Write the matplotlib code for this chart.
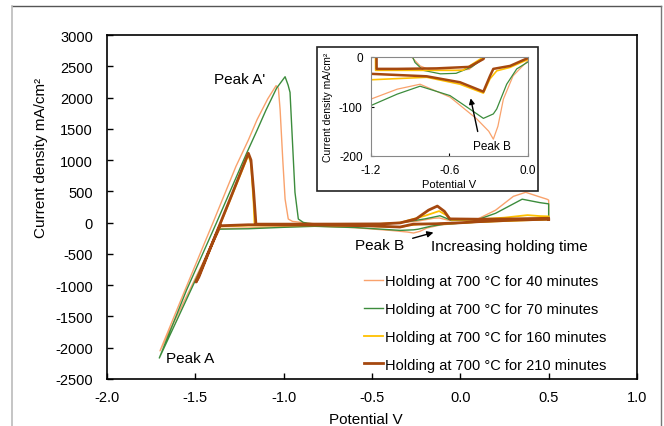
import matplotlib
matplotlib.use("Agg")
import matplotlib.pyplot as plt
from matplotlib.patches import Rectangle
from matplotlib.lines import Line2D
from matplotlib.ticker import FormatStrFormatter

plt.rcParams['font.family'] = ['Liberation Sans', 'DejaVu Sans']
plt.rcParams['axes.unicode_minus'] = False

# ---------------- data (potential V, current density mA/cm2) ----------------
labels = ["Holding at 700 °C for 40 minutes", "Holding at 700 °C for 70 minutes",
          "Holding at 700 °C for 160 minutes", "Holding at 700 °C for 210 minutes"]
colors = ['#F9A26C', '#3C8C3C', '#FFC000', '#A5480F']

v40 = [0.5, 0.3, 0.1, 0.0, -0.114, -0.188, -0.23, -0.265, -0.30, -0.392, -0.596, -0.825, -1.0, -1.2, -1.36, -1.45, -1.70,
       -1.55, -1.40, -1.27, -1.20, -1.15, -1.09, -1.043, -1.03, -1.02, -1.005, -0.992, -0.974, -0.95, -0.89, -0.825, -0.75,
       -0.55, -0.45, -0.34, -0.25, -0.15, -0.12, -0.07, 0.0, 0.1, 0.2, 0.3, 0.37, 0.44, 0.49, 0.5, 0.5]
i40 = [55, 40, 15, -7, -38, -85, -140, -166, -150, -125, -81, -55, -65, -85, -95, -600, -2050,
       -1020, 0, 900, 1320, 1650, 1980, 2190, 2150, 1800, 1000, 377, 58, 20, 0, -18, -26,
       -27, -25, 0, 20, 70, 75, 40, 35, 60, 200, 420, 485, 420, 375, 360, 55]

v70 = [0.5, 0.3, 0.1, 0.0, -0.086, -0.163, -0.239, -0.265, -0.341, -0.39, -0.596, -0.825, -1.0, -1.2, -1.37, -1.45, -1.704,
       -1.55, -1.38, -1.21, -1.15, -1.10, -1.04, -0.992, -0.975, -0.964, -0.936, -0.917, -0.89, -0.864, -0.80, -0.67,
       -0.55, -0.43, -0.36, -0.30, -0.20, -0.115, -0.08, -0.05, 0.1, 0.2, 0.35, 0.45, 0.5, 0.5]
i70 = [50, 35, 10, -10, -24, -55, -105, -115, -124, -115, -78, -59, -75, -98, -105, -620, -2165,
       -1080, 0, 1108, 1480, 1800, 2150, 2333, 2200, 2083, 484, 58, 5, -11, -27, -34,
       -33, -20, -7, 15, 60, 110, 70, 35, 50, 150, 375, 320, 300, 50]

v160 = [0.5, 0.1, 0.0, -0.137, -0.239, -0.29, -0.341, -0.52, -0.774, -1.2, -1.36, -1.49,
        -1.47, -1.20, -1.185, -1.17, -1.165, -0.5, -0.34, -0.2, -0.12, -0.08, -0.05, 0.1, 0.25, 0.38, 0.45, 0.5, 0.5]
i160 = [50, 10, -5, -21, -28, -44, -73, -55, -41, -46, -60, -900,
        -800, 1080, 950, 300, -27, -27, 0, 110, 185, 120, 45, 50, 80, 120, 105, 100, 50]

v210 = [0.5, 0.3, 0.1, 0.0, -0.137, -0.265, -0.29, -0.341, -0.52, -0.774, -1.2, -1.36, -1.43, -1.496,
        -1.48, -1.40, -1.30, -1.20, -1.185, -1.17, -1.16, -1.157, -1.0, -0.7, -0.45, -0.34, -0.25, -0.18,
        -0.13, -0.09, -0.06, 0.1, 0.3, 0.5, 0.5]
i210 = [55, 40, 15, -2, -18, -24, -38, -70, -51, -39, -34, -50, -500, -950,
        -870, -300, 400, 1110, 1000, 500, 100, -24, -24, -23, -20, -4, 60, 200,
        265, 180, 60, 55, 60, 70, 55]

series_v = [v40, v70, v160, v210]
series_i = [i40, i70, i160, i210]
widths = [1.0, 1.0, 1.3, 2.0]

xticks = [-2.0, -1.5, -1.0, -0.5, 0.0, 0.5, 1.0]
yticks = list(range(-2500, 3001, 500))
in_xticks = [-1.2, -0.6, 0.0]
in_yticks = [-200, -100, 0]

W, H = 664, 427
fig = plt.figure(figsize=(W / 100, H / 100), dpi=100)

def fx(px):
    return px / W

def fy(py):
    return 1 - py / H

# figure border
fig.add_artist(Line2D([fx(12), fx(661)], [fy(7), fy(7)], color='#555555', lw=1.0))
fig.add_artist(Line2D([fx(12), fx(12)], [fy(7), 0], color='#BBBBBB', lw=1.2))
fig.add_artist(Line2D([fx(661), fx(661)], [fy(7), 0], color='#777777', lw=1.0))

ax = fig.add_axes([fx(107), fy(380), (637 - 107) / W, (380 - 36) / H])
for v, i, c, lw, lab in zip(series_v, series_i, colors, widths, labels):
    ax.plot(v, i, color=c, lw=lw, label=lab, solid_joinstyle='round')
ax.set_xlim(-2.0, 1.0)
ax.set_ylim(-2500, 3000)
ax.set_xticks(xticks)
ax.set_yticks(yticks)
ax.xaxis.set_major_formatter(FormatStrFormatter('%.1f'))
ax.tick_params(direction='in', length=4, width=1, labelsize=10.5)
ax.tick_params(axis='x', pad=8)
ax.tick_params(axis='y', pad=10)
for s in ax.spines.values():
    s.set_linewidth(1.2)

fig.text(fx(41), fy(158), "Current density mA/cm²", rotation=90, ha='center', va='center', fontsize=11)
fig.text(fx(366), fy(420), "Potential V", ha='center', va='center', fontsize=11)

ax.text(-1.25, 2296, "Peak A'", ha='center', va='center', fontsize=11)
ax.text(-1.666, -2157, "Peak A", ha='left', va='center', fontsize=11)
ax.text(-0.455, -350, "Peak B", ha='center', va='center', fontsize=11)
ax.text(-0.168, -369, "Increasing holding time", ha='left', va='center', fontsize=11)
ax.annotate('', xy=(-0.137, -146), xytext=(-0.285, -262),
            arrowprops=dict(arrowstyle='-|>', color='black', lw=1.0, mutation_scale=9))

leg = ax.legend(loc='upper left', bbox_to_anchor=(fx(364), fy(275)), bbox_transform=fig.transFigure,
                frameon=False, fontsize=10.5, handlelength=1.3, handletextpad=0.15,
                labelspacing=0.95, borderpad=0, borderaxespad=0)

# inset
fig.add_artist(Rectangle((fx(317), fy(192)), (538 - 317) / W, (192 - 48) / H, transform=fig.transFigure,
                         facecolor='white', edgecolor='#222222', lw=1.2, zorder=3))
axin = fig.add_axes([fx(371), fy(157), (528 - 371) / W, (157 - 58) / H], zorder=4)
for v, i, c, lw in zip(series_v, series_i, colors, widths):
    axin.plot(v, i, color=c, lw=lw * 0.9, solid_joinstyle='round')
axin.set_xlim(-1.2, 0.0)
axin.set_ylim(-200, 0)
axin.set_xticks(in_xticks)
axin.set_yticks(in_yticks)
axin.xaxis.set_major_formatter(FormatStrFormatter('%.1f'))
axin.tick_params(direction='in', length=2.5, width=0.8, labelsize=8.5)
axin.tick_params(axis='x', pad=6)
axin.tick_params(axis='y', pad=6)
for s in axin.spines.values():
    s.set_linewidth(0.8)
    s.set_color('#888888')
axin.set_xlabel("Potential V", fontsize=8, labelpad=2)
axin.set_ylabel("Current density mA/cm²", fontsize=7.5, labelpad=4)
axin.text(-0.275, -179, "Peak B", ha='center', va='center', fontsize=8.5)
axin.annotate('', xy=(-0.443, -78), xytext=(-0.38, -156),
              arrowprops=dict(arrowstyle='-|>', color='black', lw=1.0, mutation_scale=8))

fig.savefig("out.png", dpi=100)
